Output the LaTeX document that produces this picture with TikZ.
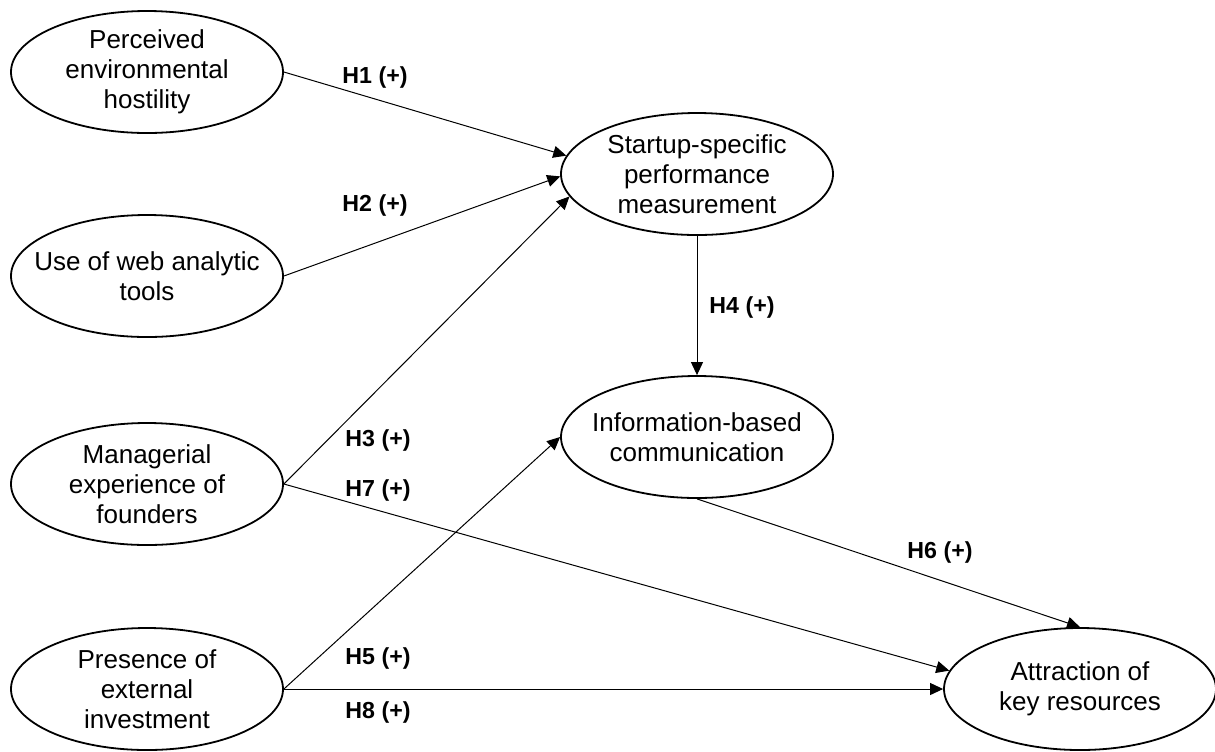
\documentclass[tikz,border=0pt]{standalone}
\usepackage{fontspec}
\setmainfont{Liberation Sans}
\usetikzlibrary{shapes.geometric,arrows.meta}
\begin{document}
\begin{tikzpicture}
[x=0.5pt,y=-0.5pt,%
  pathLine/.style={-{Triangle[length=6.5pt,width=6pt]},line width=0.5pt},%
  nodeDecorate/.style={shape=ellipse,draw,line width=0.9pt,inner xsep=-14pt,inner ysep=-6pt,
    minimum width=136pt,minimum height=61pt,align=center,
    font=\fontsize{13}{15}\selectfont},%
  hypLabel/.style={font=\fontsize{11.6}{13}\selectfont\bfseries}]
\useasboundingbox (0,0) rectangle (1215,751);
%% nodes or constructs
\foreach \nodename/\x/\y/\txt in {A/147/72/{Perceived\\environmental\\hostility},
  B/147/276/{Use of web analytic\\tools},
  C/147/484/{Managerial\\experience of\\founders},
  D/147/689/{Presence of\\external\\investment},
  S/697/174/{Startup-specific\\performance\\measurement},
  I/697/437/{Information-based\\communication},
  K/1080/689/{Attraction of\\key resources}}
{
  \node (\nodename) at (\x,\y) [nodeDecorate] {\txt};
}
%% hypothesised paths
\path
\foreach \startnode/\endnode in {A.east/S.172, B.east/S.181, C.east/S.190,
  S.south/I.north, C.east/K.172, D.east/I.west, D.east/K.west, I.south/K.north}
{
  (\startnode) edge[pathLine] node {} (\endnode)
};
%% hypothesis labels
\foreach \lab/\x/\y in {1/375/77, 2/375/205, 3/378/440, 7/378/490,
  4/742/307, 6/940/552, 5/378/658, 8/378/712}
{
  \node (h\lab) at (\x,\y) [hypLabel] {H\lab{} (+)};
}
\end{tikzpicture}
\end{document}
